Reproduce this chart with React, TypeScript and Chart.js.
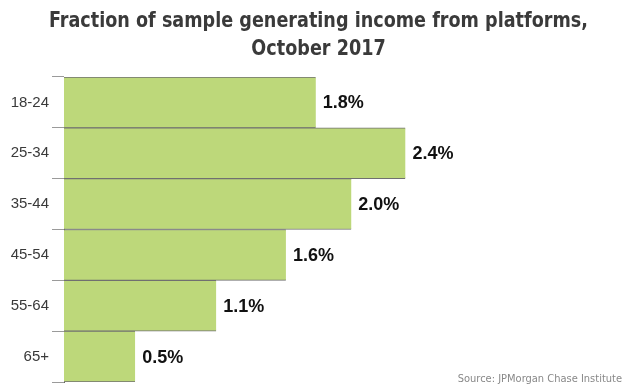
import React, { useEffect, useRef } from "react";
import { Chart, registerables } from "chart.js";

Chart.register(...registerables);

const categories = ["18-24", "25-34", "35-44", "45-54", "55-64", "65+"];
const values = [1.77, 2.4, 2.02, 1.56, 1.07, 0.5];
const titleLines = ["Fraction of sample generating income from platforms,", "October 2017"];
const sourceText = "Source: JPMorgan Chase Institute";

const NARROW = "'DejaVu Sans Condensed', 'Liberation Sans Narrow', sans-serif";
const SANS = "'Liberation Sans', Arial, sans-serif";

export default function App() {
  const ref = useRef<HTMLCanvasElement | null>(null);

  useEffect(() => {
    if (!ref.current) return;
    const textPlugin = {
      id: "textDecor",
      afterDraw(chart: any) {
        const ctx = chart.ctx;
        ctx.save();
        // title (condensed horizontally to match the narrow original face)
        ctx.font = `bold 21px ${NARROW}`;
        ctx.fillStyle = "#3a3a3a";
        ctx.textBaseline = "alphabetic";
        ctx.textAlign = "center";
        const w0 = ctx.measureText(titleLines[0]).width;
        const sx = Math.min(1, 539 / w0);
        const cx = chart.width / 2 + 1;
        const baselines = [27, 55];
        titleLines.forEach((line, i) => {
          ctx.save();
          ctx.translate(cx, baselines[i]);
          ctx.scale(sx, 1);
          ctx.fillText(line, 0, 0);
          ctx.restore();
        });
        // source
        ctx.font = `11px ${NARROW}`;
        ctx.fillStyle = "#888";
        ctx.textAlign = "right";
        ctx.fillText(sourceText, chart.width - 13, chart.height - 5);
        ctx.restore();
      },
      afterDatasetsDraw(chart: any) {
        const ctx = chart.ctx;
        const meta = chart.getDatasetMeta(0);
        ctx.save();
        ctx.font = `bold 18px ${SANS}`;
        ctx.fillStyle = "#111";
        ctx.textAlign = "left";
        ctx.textBaseline = "middle";
        meta.data.forEach((bar: any, i: number) => {
          ctx.fillText(values[i].toFixed(1) + "%", bar.x + 7, bar.y + 1);
        });
        ctx.restore();
      },
    };

    const chart = new Chart(ref.current, {
      type: "bar",
      data: {
        labels: categories,
        datasets: [
          {
            data: values,
            backgroundColor: "#BDD87A",
            borderColor: "#707070",
            borderWidth: { top: 1, bottom: 1, left: 0, right: 0 },
            borderSkipped: false,
            barPercentage: 1,
            categoryPercentage: 1,
          },
        ],
      },
      options: {
        indexAxis: "y",
        animation: false,
        responsive: false,
        maintainAspectRatio: false,
        layout: { padding: { left: 0, right: 2, top: 77, bottom: 5 } },
        plugins: {
          legend: { display: false },
          tooltip: { enabled: false },
          title: { display: false },
        },
        scales: {
          x: {
            display: false,
            min: 0,
            max: 4,
          },
          y: {
            afterFit: (scale: any) => {
              scale.width = 64;
              scale.paddingTop = 0;
              scale.paddingBottom = 0;
            },
            grid: {
              offset: true,
              drawOnChartArea: false,
              tickLength: 12,
              color: "#9a9a9a",
            },
            border: { display: true, color: "#666", width: 1 },
            ticks: {
              color: "#3a3a3a",
              padding: 3,
              font: { family: SANS, size: 15 },
            },
          },
        },
      },
      plugins: [textPlugin],
    } as any);
    return () => chart.destroy();
  }, []);

  return (
    <div style={{ position: "fixed", left: 0, top: 0, width: 635, height: 387, background: "#fff" }}>
      <canvas ref={ref} width={635} height={387} style={{ width: 635, height: 387, display: "block" }} />
    </div>
  );
}
